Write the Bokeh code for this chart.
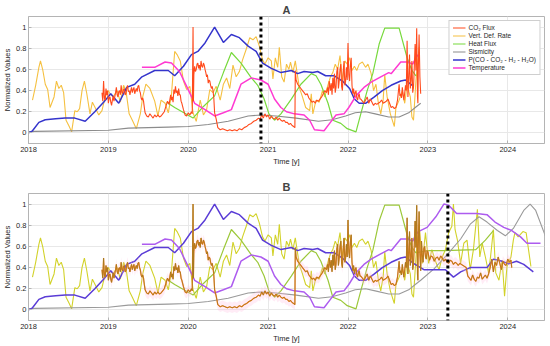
import numpy as np
from bokeh.plotting import figure
from bokeh.models import Range1d, FixedTicker, Span, Legend, LegendItem
from bokeh.layouts import column
from bokeh.embed import file_html
from bokeh.resources import INLINE

# ---------------- data ----------------
panel_titles = ["A", "B"]
series_names = ["CO\u2082 Flux", "Vert. Def. Rate", "Heat Flux", "Sismicity",
                "P(CO - CO\u2082 - H\u2082 - H\u2082O)", "Temperature"]
year_ticks = [2018, 2019, 2020, 2021, 2022, 2023, 2024]
year_labels = ["2018", "2019", "2020", "2021", "2022", "2023", "2024"]
value_ticks = [0, 0.2, 0.4, 0.6, 0.8, 1]
value_labels = ["0", "0.2", "0.4", "0.6", "0.8", "1"]
event_years = [2020.91, 2023.25]      # dotted markers for panel A and B
panel_end = [2022.91, 2024.5]         # last date shown in each panel

vdr_t = [2018.05, 2018.09, 2018.13, 2018.15, 2018.18, 2018.21, 2018.24, 2018.27, 2018.32, 2018.35,
         2018.38, 2018.41, 2018.44, 2018.47, 2018.51, 2018.54, 2018.58, 2018.61, 2018.64, 2018.67,
         2018.70, 2018.73, 2018.77, 2018.80, 2018.84, 2018.88, 2018.92, 2018.96, 2019.00, 2019.02,
         2019.06, 2019.11, 2019.15, 2019.19, 2019.22, 2019.26, 2019.30, 2019.35, 2019.40, 2019.43,
         2019.47, 2019.52, 2019.58, 2019.62, 2019.66, 2019.71, 2019.75, 2019.79, 2019.83, 2019.86,
         2019.90, 2019.94, 2019.98, 2020.02, 2020.06, 2020.10, 2020.15, 2020.19, 2020.23, 2020.27,
         2020.31, 2020.35, 2020.40, 2020.44, 2020.48, 2020.52, 2020.56, 2020.60, 2020.64, 2020.68,
         2020.73, 2020.77, 2020.81, 2020.85, 2020.89, 2020.93, 2020.96, 2021.00, 2021.04, 2021.06,
         2021.09, 2021.12, 2021.14, 2021.17, 2021.20, 2021.23, 2021.26, 2021.28, 2021.31, 2021.34,
         2021.39, 2021.43, 2021.47, 2021.52, 2021.54, 2021.56, 2021.60, 2021.64, 2021.68, 2021.71,
         2021.74, 2021.78, 2021.81, 2021.84, 2021.87, 2021.90, 2021.93, 2021.96, 2021.99, 2022.02,
         2022.05, 2022.08, 2022.11, 2022.14, 2022.18, 2022.22, 2022.25, 2022.29, 2022.32, 2022.35,
         2022.38, 2022.41, 2022.44, 2022.46, 2022.49, 2022.53, 2022.58, 2022.60, 2022.64, 2022.68,
         2022.71, 2022.74, 2022.78, 2022.80, 2022.82, 2022.85, 2022.87, 2022.89, 2022.93, 2022.97,
         2023.01, 2023.05, 2023.09, 2023.14, 2023.18, 2023.22, 2023.26, 2023.30, 2023.32, 2023.34,
         2023.37, 2023.41, 2023.45, 2023.49, 2023.53, 2023.57, 2023.62, 2023.65, 2023.68, 2023.72,
         2023.76, 2023.79, 2023.82, 2023.85, 2023.89, 2023.93, 2023.96, 2023.99, 2024.04, 2024.07,
         2024.09, 2024.13, 2024.19, 2024.23, 2024.26, 2024.29]
vdr_v = [0.31, 0.45, 0.62, 0.68, 0.59, 0.46, 0.41, 0.24, 0.34, 0.49,
         0.42, 0.45, 0.38, 0.12, 0.06, 0.01, 0.21, 0.20, 0.23, 0.40,
         0.49, 0.37, 0.18, 0.29, 0.23, 0.17, 0.21, 0.34, 0.40, 0.37,
         0.34, 0.40, 0.29, 0.45, 0.40, 0.18, 0.12, 0.04, 0.18, 0.34,
         0.46, 0.42, 0.30, 0.16, 0.31, 0.28, 0.19, 0.36, 0.77, 0.74,
         0.68, 0.49, 0.41, 0.44, 0.19, 0.11, 0.31, 0.17, 0.22, 0.41,
         0.38, 0.44, 0.31, 0.46, 0.52, 0.42, 0.64, 0.53, 0.58, 0.69,
         0.80, 0.90, 0.88, 0.91, 0.82, 0.69, 0.65, 0.71, 0.68, 0.51,
         0.71, 0.62, 0.81, 0.53, 0.48, 0.65, 0.60, 0.67, 0.57, 0.68,
         0.43, 0.34, 0.24, 0.21, 0.37, 0.18, 0.31, 0.29, 0.40, 0.34,
         0.43, 0.53, 0.57, 0.65, 0.60, 0.73, 0.49, 0.68, 0.65, 0.71,
         0.59, 0.63, 0.59, 0.65, 0.67, 0.62, 0.65, 0.56, 0.40, 0.46,
         0.28, 0.18, 0.31, 0.55, 0.34, 0.18, 0.06, 0.24, 0.31, 0.40,
         0.28, 0.45, 0.34, 0.15, 0.12, 0.49, 0.65, 0.81, 0.44, 0.73,
         0.44, 0.57, 0.47, 0.38, 0.50, 0.57, 0.73, 0.79, 1.00, 0.76,
         0.66, 0.44, 0.63, 0.66, 0.38, 0.57, 0.95, 0.50, 0.63, 0.50,
         0.35, 0.54, 0.76, 0.35, 0.28, 0.47, 0.13, 0.41, 0.50, 0.66,
         0.73, 0.69, 0.74, 0.73, 0.57, 0.41]

pres_t = [2018.00, 2018.05, 2018.13, 2018.21, 2018.34, 2018.46, 2018.58, 2018.71, 2018.83, 2018.94,
          2019.03, 2019.13, 2019.23, 2019.33, 2019.42, 2019.58, 2019.75, 2019.83, 2019.94, 2020.04,
          2020.12, 2020.21, 2020.33, 2020.44, 2020.54, 2020.64, 2020.75, 2020.85, 2020.93, 2021.04,
          2021.16, 2021.29, 2021.37, 2021.45, 2021.56, 2021.62, 2021.72, 2021.83, 2021.93, 2022.02,
          2022.08, 2022.14, 2022.22, 2022.33, 2022.43, 2022.54, 2022.66, 2022.72, 2022.82, 2022.95,
          2023.03, 2023.22, 2023.32, 2023.41, 2023.53, 2023.66, 2023.74, 2023.82, 2023.93, 2024.01,
          2024.11, 2024.20, 2024.32]
pres_v = [0.00, 0.02, 0.10, 0.125, 0.135, 0.14, 0.14, 0.11, 0.20, 0.29,
          0.37, 0.28, 0.43, 0.46, 0.53, 0.59, 0.59, 0.54, 0.63, 0.74,
          0.77, 0.85, 1.00, 0.855, 0.93, 0.90, 0.82, 0.77, 0.66, 0.61,
          0.57, 0.59, 0.56, 0.58, 0.57, 0.58, 0.54, 0.54, 0.49, 0.42,
          0.32, 0.28, 0.28, 0.34, 0.40, 0.45, 0.49, 0.50, 0.44, 0.38,
          0.38, 0.38, 0.31, 0.36, 0.40, 0.40, 0.40, 0.48, 0.46, 0.435,
          0.46, 0.43, 0.36]

temp_t = [2019.42, 2019.58, 2019.71, 2019.79, 2019.89, 2019.98, 2020.08, 2020.21, 2020.33, 2020.44,
          2020.54, 2020.66, 2020.79, 2020.91, 2021.00, 2021.08, 2021.16, 2021.23, 2021.33, 2021.45,
          2021.52, 2021.58, 2021.70, 2021.77, 2021.85, 2021.95, 2022.01, 2022.10, 2022.20, 2022.29,
          2022.41, 2022.51, 2022.54, 2022.66, 2022.75, 2022.81, 2022.85, 2022.88, 2022.99, 2023.10,
          2023.20, 2023.26, 2023.36, 2023.61, 2023.74, 2023.84, 2023.95, 2024.05, 2024.16, 2024.24,
          2024.41]
temp_v = [0.62, 0.62, 0.67, 0.66, 0.58, 0.44, 0.28, 0.22, 0.16, 0.19,
          0.22, 0.46, 0.52, 0.50, 0.46, 0.32, 0.24, 0.20, 0.18, 0.17,
          0.12, 0.03, 0.02, 0.09, 0.17, 0.18, 0.24, 0.35, 0.43, 0.48,
          0.53, 0.57, 0.56, 0.67, 0.67, 0.65, 0.71, 0.74, 0.78, 0.88,
          1.00, 0.99, 0.91, 0.91, 0.90, 0.83, 0.78, 0.75, 0.69, 0.63,
          0.63]

heat_t = [2019.73, 2019.83, 2020.06, 2020.19, 2020.33, 2020.44, 2020.54, 2020.66, 2020.79, 2020.87,
          2020.95, 2021.01, 2021.08, 2021.16, 2021.29, 2021.41, 2021.54, 2021.60, 2021.66, 2021.75,
          2021.81, 2021.91, 2021.99, 2022.10, 2022.16, 2022.24, 2022.31, 2022.39, 2022.46, 2022.64,
          2022.74, 2022.80, 2022.85, 2023.00, 2023.20, 2023.60, 2023.72, 2023.82]
heat_v = [0.29, 0.24, 0.14, 0.25, 0.35, 0.57, 0.76, 0.66, 0.52, 0.45,
          0.32, 0.18, 0.12, 0.18, 0.32, 0.46, 0.56, 0.54, 0.46, 0.28,
          0.12, 0.09, 0.04, 0.01, 0.18, 0.40, 0.56, 0.84, 0.99, 0.99,
          0.71, 0.59, 0.54, 0.56, 0.56, 0.57, 0.66, 0.75]

seis_t = [2018.00, 2018.08, 2019.00, 2019.25, 2019.75, 2020.00, 2020.25, 2020.50, 2020.75, 2020.91,
          2021.10, 2021.35, 2021.63, 2021.80, 2021.97, 2022.09, 2022.22, 2022.34, 2022.51, 2022.64,
          2022.76, 2022.85, 2022.91, 2023.08, 2023.25, 2023.41, 2023.53, 2023.64, 2023.74, 2023.87,
          2023.97, 2024.07, 2024.20, 2024.28, 2024.35, 2024.47]
seis_v = [0.01, 0.015, 0.025, 0.045, 0.055, 0.06, 0.08, 0.11, 0.16, 0.17,
          0.16, 0.14, 0.11, 0.125, 0.16, 0.19, 0.20, 0.18, 0.15, 0.15,
          0.19, 0.245, 0.28, 0.39, 0.53, 0.67, 0.81, 0.88, 0.83, 0.75,
          0.70, 0.77, 0.94, 1.00, 0.94, 0.70]

co2_t = [2018.92, 2018.93, 2018.94, 2018.95, 2018.96, 2018.97, 2018.98, 2018.99, 2019.00, 2019.01,
         2019.02, 2019.03, 2019.04, 2019.05, 2019.06, 2019.07, 2019.08, 2019.09, 2019.10, 2019.11,
         2019.12, 2019.13, 2019.14, 2019.15, 2019.16, 2019.17, 2019.18, 2019.19, 2019.20, 2019.21,
         2019.22, 2019.23, 2019.24, 2019.25, 2019.26, 2019.27, 2019.28, 2019.29, 2019.30, 2019.31,
         2019.32, 2019.33, 2019.34, 2019.35, 2019.36, 2019.37, 2019.38, 2019.39, 2019.40, 2019.41,
         2019.42, 2019.43, 2019.44, 2019.45, 2019.46, 2019.48, 2019.50, 2019.52, 2019.54, 2019.56,
         2019.58, 2019.60, 2019.62, 2019.64, 2019.66, 2019.68, 2019.70, 2019.72, 2019.74, 2019.76,
         2019.78, 2019.79, 2019.80, 2019.81, 2019.82, 2019.83, 2019.84, 2019.85, 2019.86, 2019.87,
         2019.88, 2019.89, 2019.90, 2019.91, 2019.92, 2019.94, 2019.96, 2019.98, 2020.00, 2020.02,
         2020.04, 2020.05, 2020.06, 2020.065, 2020.07, 2020.08, 2020.09, 2020.10, 2020.11, 2020.12,
         2020.13, 2020.14, 2020.15, 2020.16, 2020.17, 2020.18, 2020.19, 2020.20, 2020.21, 2020.22,
         2020.23, 2020.24, 2020.25, 2020.26, 2020.27, 2020.28, 2020.29, 2020.30, 2020.31, 2020.32,
         2020.33, 2020.34, 2020.35, 2020.37, 2020.40, 2020.43, 2020.46, 2020.49, 2020.52, 2020.55,
         2020.58, 2020.61, 2020.64, 2020.67, 2020.70, 2020.73, 2020.76, 2020.79, 2020.82, 2020.85,
         2020.88, 2020.90, 2020.92, 2020.94, 2020.96, 2020.98, 2021.00, 2021.02, 2021.04, 2021.06,
         2021.08, 2021.10, 2021.12, 2021.14, 2021.16, 2021.18, 2021.20, 2021.22, 2021.24, 2021.26,
         2021.28, 2021.30, 2021.32, 2021.335, 2021.34, 2021.35, 2021.37, 2021.39, 2021.41, 2021.43,
         2021.45, 2021.47, 2021.49, 2021.51, 2021.53, 2021.55, 2021.57, 2021.59, 2021.61, 2021.63,
         2021.65, 2021.67, 2021.69, 2021.71, 2021.73, 2021.745, 2021.755, 2021.765, 2021.78, 2021.79,
         2021.80, 2021.81, 2021.82, 2021.83, 2021.84, 2021.85, 2021.86, 2021.87, 2021.88, 2021.89,
         2021.90, 2021.91, 2021.92, 2021.93, 2021.94, 2021.95, 2021.96, 2021.97, 2021.98, 2021.99,
         2022.00, 2022.01, 2022.02, 2022.03, 2022.04, 2022.05, 2022.06, 2022.07, 2022.08, 2022.09,
         2022.10, 2022.11, 2022.12, 2022.13, 2022.14, 2022.15, 2022.16, 2022.18, 2022.20, 2022.22,
         2022.24, 2022.26, 2022.28, 2022.30, 2022.32, 2022.34, 2022.36, 2022.38, 2022.40, 2022.42,
         2022.44, 2022.46, 2022.48, 2022.50, 2022.52, 2022.54, 2022.56, 2022.58, 2022.60, 2022.62,
         2022.64, 2022.65, 2022.66, 2022.67, 2022.68, 2022.69, 2022.70, 2022.71, 2022.72, 2022.73,
         2022.74, 2022.75, 2022.76, 2022.77, 2022.78, 2022.79, 2022.80, 2022.81, 2022.82, 2022.83,
         2022.84, 2022.85, 2022.86, 2022.87, 2022.875, 2022.88, 2022.89, 2022.90, 2022.91, 2022.92,
         2022.93, 2022.94, 2022.95, 2022.96, 2022.97, 2022.98, 2022.99, 2023.00, 2023.02, 2023.04,
         2023.06, 2023.08, 2023.10, 2023.12, 2023.14, 2023.16, 2023.18, 2023.20, 2023.22, 2023.24,
         2023.26, 2023.28, 2023.30, 2023.32, 2023.34, 2023.36, 2023.38, 2023.40, 2023.42, 2023.44,
         2023.46, 2023.48, 2023.50, 2023.52, 2023.54, 2023.56, 2023.58, 2023.60, 2023.62, 2023.64,
         2023.66, 2023.68, 2023.70, 2023.72, 2023.74, 2023.76, 2023.78, 2023.80, 2023.82, 2023.84,
         2023.86, 2023.88, 2023.90, 2023.92, 2023.94, 2023.96, 2023.98, 2024.00, 2024.02, 2024.04,
         2024.05]
co2_v = [0.38, 0.30, 0.49, 0.33, 0.31, 0.42, 0.36, 0.40, 0.28, 0.33,
         0.34, 0.29, 0.26, 0.31, 0.35, 0.30, 0.34, 0.38, 0.43, 0.36,
         0.34, 0.39, 0.40, 0.36, 0.45, 0.38, 0.37, 0.41, 0.42, 0.36,
         0.37, 0.42, 0.45, 0.39, 0.40, 0.36, 0.40, 0.43, 0.38, 0.41,
         0.43, 0.37, 0.40, 0.42, 0.39, 0.44, 0.45, 0.40, 0.38, 0.33,
         0.31, 0.33, 0.30, 0.24, 0.19, 0.16, 0.15, 0.18, 0.16, 0.14,
         0.17, 0.15, 0.17, 0.15, 0.16, 0.18, 0.20, 0.25, 0.30, 0.27,
         0.36, 0.31, 0.34, 0.29, 0.41, 0.37, 0.44, 0.38, 0.40, 0.35,
         0.42, 0.36, 0.36, 0.30, 0.28, 0.22, 0.17, 0.16, 0.19, 0.17,
         0.20, 0.18, 1.00, 0.30, 0.55, 0.63, 0.58, 0.60, 0.65, 0.66,
         0.61, 0.64, 0.59, 0.68, 0.63, 0.62, 0.66, 0.64, 0.60, 0.57,
         0.53, 0.55, 0.47, 0.50, 0.49, 0.45, 0.42, 0.44, 0.40, 0.33,
         0.19, 0.16, 0.13, 0.05, 0.03, 0.04, 0.03, 0.02, 0.03, 0.02,
         0.03, 0.02, 0.04, 0.03, 0.05, 0.06, 0.08, 0.09, 0.11, 0.12,
         0.14, 0.13, 0.17, 0.14, 0.18, 0.15, 0.17, 0.13, 0.16, 0.14,
         0.13, 0.15, 0.12, 0.14, 0.12, 0.11, 0.12, 0.10, 0.10, 0.08,
         0.09, 0.07, 0.06, 0.05, 0.59, 0.50, 0.46, 0.44, 0.42, 0.40,
         0.38, 0.36, 0.37, 0.33, 0.31, 0.29, 0.30, 0.28, 0.31, 0.30,
         0.32, 0.34, 0.37, 0.40, 0.38, 0.43, 0.36, 0.49, 0.40, 0.47,
         0.36, 0.52, 0.42, 0.56, 0.38, 0.43, 0.58, 0.62, 0.42, 0.49,
         0.60, 0.65, 0.44, 0.40, 0.58, 0.68, 0.45, 0.49, 0.62, 0.50,
         0.85, 0.55, 0.49, 0.64, 0.71, 0.45, 0.37, 0.42, 0.34, 0.38,
         0.40, 0.33, 0.31, 0.35, 0.37, 0.32, 0.32, 0.30, 0.28, 0.31,
         0.34, 0.28, 0.32, 0.29, 0.26, 0.28, 0.27, 0.28, 0.29, 0.31,
         0.28, 0.29, 0.30, 0.32, 0.28, 0.24, 0.25, 0.23, 0.24, 0.31,
         0.46, 0.35, 0.37, 0.33, 0.43, 0.36, 0.31, 0.38, 0.45, 0.40,
         0.87, 0.34, 0.52, 0.74, 0.42, 0.49, 0.68, 0.38, 0.43, 0.62,
         0.84, 0.59, 0.99, 0.34, 0.28, 0.60, 0.93, 0.53, 0.37, 0.65,
         0.52, 0.45, 0.58, 0.60, 0.50, 0.48, 0.56, 0.55, 0.47, 0.51,
         0.50, 0.46, 0.49, 0.50, 0.47, 0.51, 0.49, 0.46, 0.48, 0.45,
         0.44, 0.47, 0.46, 0.43, 0.45, 0.44, 0.42, 0.44, 0.43, 0.42,
         0.41, 0.40, 0.32, 0.30, 0.28, 0.33, 0.29, 0.27, 0.31, 0.30,
         0.35, 0.29, 0.31, 0.33, 0.30, 0.34, 0.40, 0.48, 0.36, 0.45,
         0.42, 0.50, 0.44, 0.38, 0.46, 0.43, 0.42, 0.48, 0.45, 0.47,
         0.40]

# colours for panel A and panel B
colors_a = dict(co2="#ff4a1c", vdr="#f5c040", heat="#77d93c", seis="#8c8c8c",
                pres="#3535cc", temp="#ff3ad2")
colors_b = dict(co2="#ff7a1a", vdr="#d2d22a", heat="#9cc83a", seis="#9a9a9a",
                pres="#5a3cd6", temp="#ad5cef")

FONT = "Liberation Sans"


def subset(t, v, end):
    t = np.asarray(t, dtype=float)
    v = np.asarray(v, dtype=float)
    m = t <= end
    return t[m], v[m]


def make_panel(idx, colors, show_legend, height, border_top, border_bottom):
    end = panel_end[idx]
    p = figure(width=550, height=height, output_backend="svg", toolbar_location=None,
               x_range=Range1d(2018, 2024.46), y_range=Range1d(-0.1, 1.1),
               min_border_left=26, min_border_right=6, min_border_top=border_top,
               min_border_bottom=border_bottom, background_fill_color="white",
               border_fill_color="white")
    p.title.text = panel_titles[idx]
    p.title.align = "center"
    p.title.text_font = FONT
    p.title.text_font_size = "11px"
    p.title.text_font_style = "bold"
    p.title.standoff = 1
    p.outline_line_color = "#b4b4b4"

    p.xaxis.ticker = FixedTicker(ticks=year_ticks)
    p.xaxis.major_label_overrides = dict(zip(year_ticks, year_labels))
    p.yaxis.ticker = FixedTicker(ticks=value_ticks)
    p.yaxis.major_label_overrides = dict(zip(value_ticks, value_labels))
    p.xaxis.axis_label = "Time [y]"
    p.yaxis.axis_label = "Normalized Values"
    for ax in (p.xaxis[0], p.yaxis[0]):
        ax.axis_label_text_font = FONT
        ax.axis_label_text_font_size = "7.5px"
        ax.axis_label_text_font_style = "normal"
        ax.axis_label_text_color = "#262626"
        ax.major_label_text_font = FONT
        ax.major_label_text_font_size = "7.5px"
        ax.major_label_text_color = "#262626"
        ax.axis_line_color = "#b4b4b4"
        ax.major_tick_line_color = "#b4b4b4"
        ax.major_tick_in = 3
        ax.major_tick_out = 0
        ax.minor_tick_line_color = None
        ax.axis_label_standoff = 2
        ax.major_label_standoff = 3
    p.yaxis.axis_label_standoff = 1
    p.yaxis.major_label_standoff = 2
    p.xgrid.grid_line_color = "#e8e8e8"
    p.ygrid.grid_line_color = "#e8e8e8"

    t, v = subset(vdr_t, vdr_v, end)
    r_vdr = p.line(t, v, line_color=colors["vdr"], line_width=1.1)
    t, v = subset(heat_t, heat_v, end)
    r_heat = p.line(t, v, line_color=colors["heat"], line_width=1.2)
    t, v = subset(seis_t, seis_v, end)
    r_seis = p.line(t, v, line_color=colors["seis"], line_width=1.1)
    t, v = subset(pres_t, pres_v, end)
    r_pres = p.line(t, v, line_color=colors["pres"], line_width=1.5)
    t, v = subset(temp_t, temp_v, end)
    r_temp = p.line(t, v, line_color=colors["temp"], line_width=1.5)
    t, v = subset(co2_t, co2_v, end)
    if idx == 1:
        p.varea(x=t, y1=v - 0.05, y2=v + 0.05, fill_color="#ffb3dc", fill_alpha=0.25)
        r_co2 = p.line(t, v, line_color=colors["co2"], line_width=1.2)
        p.line(t, v, line_color="#8d7d22", line_width=0.8, line_alpha=0.8)
    else:
        r_co2 = p.line(t, v, line_color=colors["co2"], line_width=1.1)

    p.add_layout(Span(location=event_years[idx], dimension="height",
                      line_color="black", line_width=3, line_dash="3 3"))

    if show_legend:
        renderers = [r_co2, r_vdr, r_heat, r_seis, r_pres, r_temp]
        items = [LegendItem(label=n, renderers=[r]) for n, r in zip(series_names, renderers)]
        leg = Legend(items=items, location="top_right",
                     label_text_font=FONT, label_text_font_size="6.5px",
                     label_text_color="#262626",
                     glyph_width=13, glyph_height=7, label_height=7,
                     spacing=1, padding=3, margin=4, label_standoff=3,
                     border_line_color="#a0a0a0", background_fill_alpha=1.0)
        p.add_layout(leg)
    return p


pa = make_panel(0, colors_a, True, 173, 16, 30)
pb = make_panel(1, colors_b, False, 173, 20, 26)
layout = column(pa, pb, spacing=0)

open("out.html", "w").write(file_html(layout, INLINE))
